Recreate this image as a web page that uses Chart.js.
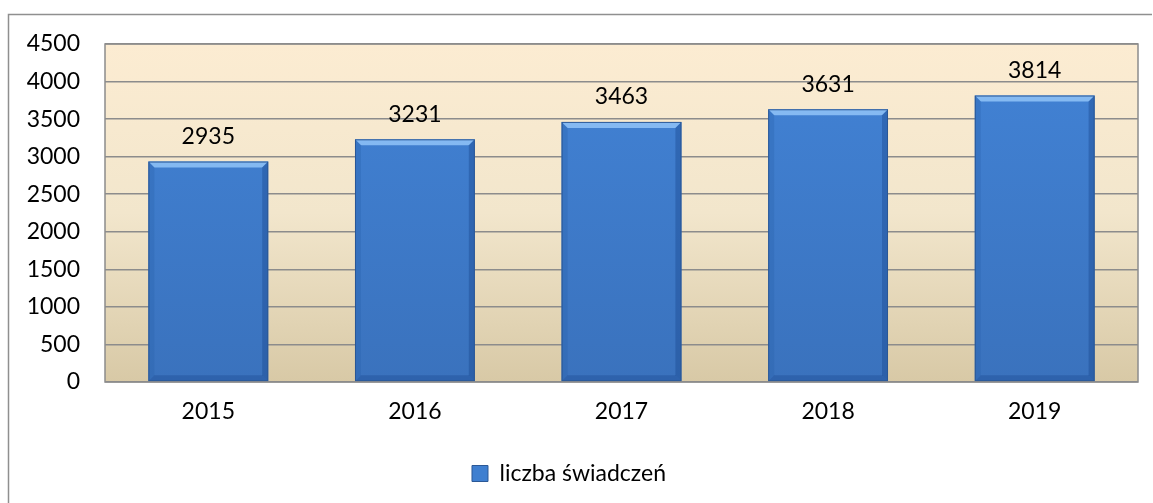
<!DOCTYPE html>
<html>
<head>
<meta charset="utf-8">
<script src="https://cdn.jsdelivr.net/npm/chart.js@4"></script>
<style>
  html, body { margin: 0; padding: 0; background: #fff; }
  #wrap { position: relative; width: 1153px; height: 503px; }
</style>
</head>
<body>
<div id="wrap"><canvas id="chart" width="1153" height="503"></canvas></div>
<script>
// data
const years = ['2015', '2016', '2017', '2018', '2019'];
const liczbaSwiadczen = [2935, 3231, 3463, 3631, 3814];
const seriesLabel = 'liczba świadczeń';
const yMax = 4500;
const yStep = 500;

const FONT = 'Lato, "Open Sans", sans-serif';
const FSIZE = 23;

// outer frame + plot background
const framePlugin = {
    id: 'frame',
    beforeDraw(chart) {
        const { ctx, chartArea: a } = chart;
        ctx.save();
        ctx.strokeStyle = '#8f8f8f';
        ctx.lineWidth = 1.5;
        ctx.beginPath();
        ctx.moveTo(8.5, 503);
        ctx.lineTo(8.5, 14.5);
        ctx.lineTo(1152, 14.5);
        ctx.stroke();

        const g = ctx.createLinearGradient(0, a.top, 0, a.bottom);
        g.addColorStop(0, '#fcecd2');
        g.addColorStop(0.5, '#f2e6cc');
        g.addColorStop(1, '#d8c9a6');
        ctx.fillStyle = g;
        ctx.fillRect(a.left, a.top, a.right - a.left, a.bottom - a.top);
        ctx.restore();
    },
    afterDraw(chart) {
        const { ctx, chartArea: a } = chart;
        ctx.save();
        ctx.strokeStyle = '#8c8c8c';
        ctx.lineWidth = 1.5;
        ctx.strokeRect(a.left, a.top, a.right - a.left, a.bottom - a.top);
        ctx.restore();
    }
};

// bevel edges on bars + value labels
const barDecor = {
    id: 'barDecor',
    afterDatasetsDraw(chart) {
        const { ctx } = chart;
        const meta = chart.getDatasetMeta(0);
        ctx.save();
        meta.data.forEach((bar, i) => {
            const l = bar.x - bar.width / 2, r = bar.x + bar.width / 2;
            const t = bar.y, b = bar.base, d = 6;
            // top bevel
            ctx.fillStyle = 'rgba(150,200,250,0.8)';
            ctx.beginPath();
            ctx.moveTo(l, t); ctx.lineTo(r, t); ctx.lineTo(r - d, t + d); ctx.lineTo(l + d, t + d);
            ctx.closePath(); ctx.fill();
            // left bevel
            ctx.fillStyle = 'rgba(40,95,170,0.3)';
            ctx.beginPath();
            ctx.moveTo(l, t); ctx.lineTo(l + d, t + d); ctx.lineTo(l + d, b - d); ctx.lineTo(l, b);
            ctx.closePath(); ctx.fill();
            // right bevel
            ctx.fillStyle = 'rgba(25,70,140,0.4)';
            ctx.beginPath();
            ctx.moveTo(r, t); ctx.lineTo(r - d, t + d); ctx.lineTo(r - d, b - d); ctx.lineTo(r, b);
            ctx.closePath(); ctx.fill();
            // bottom bevel
            ctx.fillStyle = 'rgba(25,70,140,0.35)';
            ctx.beginPath();
            ctx.moveTo(l, b); ctx.lineTo(r, b); ctx.lineTo(r - d, b - d); ctx.lineTo(l + d, b - d);
            ctx.closePath(); ctx.fill();
            ctx.strokeStyle = '#2b5896';
            ctx.lineWidth = 1;
            ctx.strokeRect(l + 0.5, t + 0.5, bar.width - 1, b - t - 1);

            ctx.fillStyle = '#000';
            ctx.font = FSIZE + 'px ' + FONT;
            ctx.textAlign = 'center';
            ctx.textBaseline = 'middle';
            ctx.fillText(String(liczbaSwiadczen[i]), bar.x, bar.y - 25);
        });
        ctx.restore();
    }
};

const ctx = document.getElementById('chart').getContext('2d');
new Chart(ctx, {
    type: 'bar',
    data: {
        labels: years,
        datasets: [{
            label: seriesLabel,
            data: liczbaSwiadczen,
            backgroundColor: (c) => {
                const a = c.chart.chartArea;
                if (!a) return '#3f7fd0';
                const g = c.chart.ctx.createLinearGradient(0, a.top, 0, a.bottom);
                g.addColorStop(0, '#4283d6');
                g.addColorStop(1, '#3a72bd');
                return g;
            },
            borderWidth: 0,
            categoryPercentage: 1,
            barPercentage: 0.58
        }]
    },
    options: {
        responsive: false,
        animation: false,
        layout: { padding: { left: 0, right: 15, top: 44, bottom: 8 } },
        plugins: {
            legend: {
                position: 'bottom',
                labels: {
                    font: { family: FONT, size: FSIZE },
                    color: '#000',
                    boxWidth: 16,
                    boxHeight: 16,
                    padding: 10,
                    generateLabels: () => [{
                        text: seriesLabel,
                        fillStyle: '#3f7fd0',
                        strokeStyle: '#2b5896',
                        lineWidth: 1,
                        datasetIndex: 0
                    }]
                }
            },
            tooltip: { enabled: false }
        },
        scales: {
            x: {
                grid: { display: false, drawTicks: false },
                border: { display: false },
                ticks: { color: '#000', font: { family: FONT, size: FSIZE }, padding: 16 },
                afterFit: (s) => { s.height = 70; }
            },
            y: {
                min: 0,
                max: yMax,
                grid: { color: '#8c8c8c', lineWidth: 1.5, drawTicks: false },
                border: { display: false },
                ticks: {
                    stepSize: yStep,
                    color: '#000',
                    font: { family: FONT, size: FSIZE },
                    padding: 25,
                    callback: (v) => String(v)
                },
                afterFit: (s) => { s.width = 105; }
            }
        }
    },
    plugins: [framePlugin, barDecor]
});
</script>
</body>
</html>
